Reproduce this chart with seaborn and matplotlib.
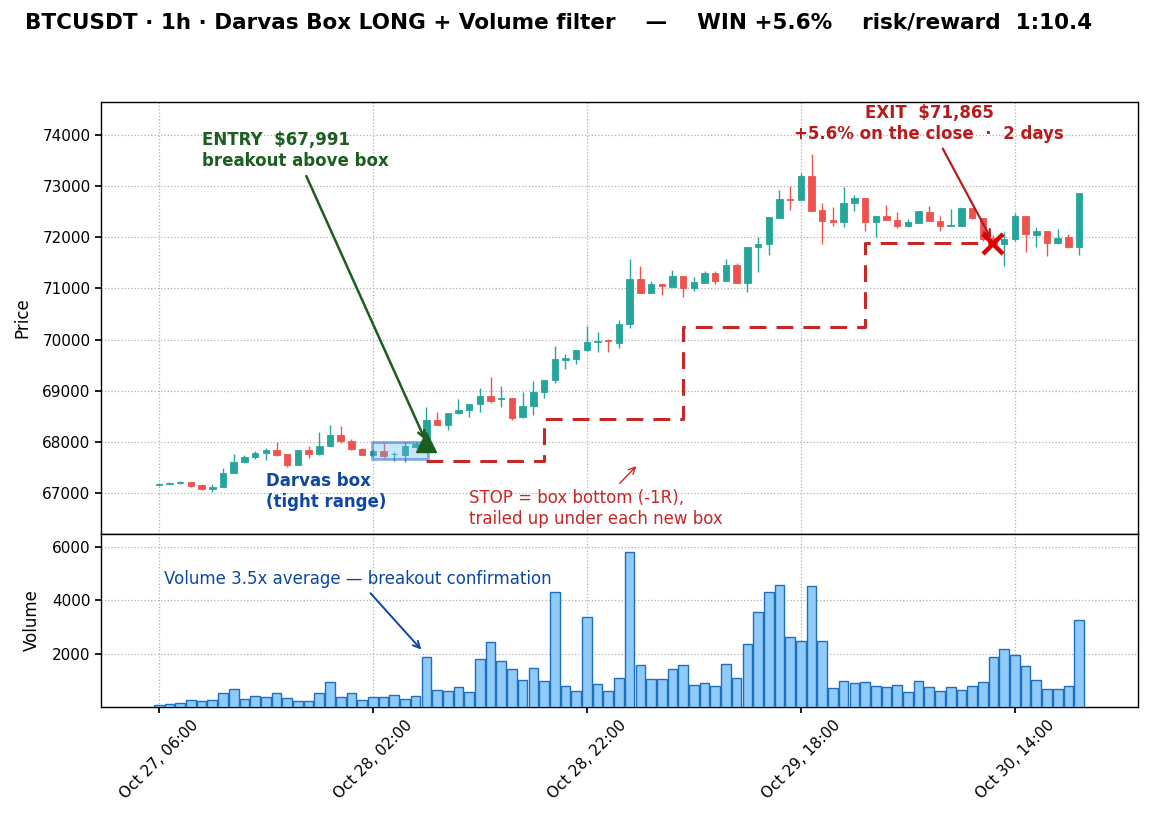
import numpy as np
import matplotlib
matplotlib.use("Agg")
import matplotlib.pyplot as plt
from matplotlib.patches import Rectangle
import pandas as pd
import seaborn as sns

# %% data (1h candles, Oct 27 06:00 -> Oct 30 20:00)
tick_labels = ["Oct 27, 06:00", "Oct 28, 02:00", "Oct 28, 22:00", "Oct 29, 18:00", "Oct 30, 14:00"]

opens = [67160, 67180, 67200, 67220, 67150, 67080, 67110, 67395, 67610, 67700,
         67790, 67835, 67760, 67540, 67850, 67760, 67920, 68130, 68010, 67870,
         67750, 67820, 67755, 67750, 67900, 67980, 68420, 68325, 68560, 68620,
         68745, 68900, 68830, 68850, 68480, 68700, 68980, 69210, 69610, 69630,
         69790, 69950, 70000, 69940, 70300, 71180, 70920, 71090, 71030, 71250,
         71010, 71110, 71310, 71150, 71465, 71100, 71805, 71870, 72380, 72750,
         72720, 73190, 72540, 72340, 72295, 72675, 72760, 72295, 72420, 72340,
         72230, 72275, 72500, 72325, 72230, 72230, 72580, 72370, 71990, 71870,
         71965, 72420, 72050, 72130, 71880, 72000, 71820]
highs = [67190, 67210, 67245, 67225, 67170, 67170, 67490, 67770, 67740, 67830,
         67880, 68000, 67770, 67850, 67930, 68200, 68340, 68310, 68060, 67890,
         67870, 67980, 67800, 67990, 67990, 68690, 68580, 68570, 68840, 68750,
         69050, 69260, 69085, 68850, 68970, 69200, 69215, 69880, 69710, 69800,
         70260, 70150, 70020, 70380, 71580, 71430, 71140, 71090, 71370, 71250,
         71215, 71340, 71350, 71575, 71490, 71820, 72000, 72405, 72930, 73000,
         73255, 73630, 72665, 72600, 72980, 72820, 72760, 72420, 72640, 72490,
         72350, 72510, 72620, 72420, 72555, 72580, 72580, 72370, 72050, 72100,
         72470, 72420, 72200, 72130, 72160, 72060, 72870]
lows = [67140, 67175, 67170, 67125, 67060, 67030, 67110, 67395, 67600, 67670,
        67640, 67720, 67510, 67540, 67690, 67740, 67920, 67980, 67850, 67740,
        67700, 67690, 67620, 67600, 67890, 67970, 68330, 68230, 68550, 68490,
        68580, 68770, 68690, 68430, 68460, 68520, 68850, 69160, 69420, 69520,
        69780, 69750, 69760, 69840, 70220, 70910, 70910, 70880, 71030, 70840,
        70960, 71110, 71080, 71150, 71100, 70930, 71330, 71660, 72380, 72535,
        72720, 72520, 71870, 72230, 72200, 72520, 72130, 72000, 72340, 72190,
        72200, 72275, 72315, 72120, 72230, 72230, 72360, 71930, 71820, 71445,
        71930, 71705, 71815, 71640, 71870, 71790, 71660]
closes = [67170, 67200, 67225, 67145, 67080, 67120, 67395, 67610, 67700, 67790,
          67835, 67740, 67540, 67850, 67760, 67920, 68130, 68010, 67860, 67750,
          67815, 67725, 67765, 67915, 67965, 68420, 68330, 68570, 68630, 68750,
          68900, 68805, 68850, 68470, 68700, 68980, 69215, 69620, 69640, 69800,
          69960, 69965, 69970, 70300, 71180, 70915, 71085, 71045, 71240, 71010,
          71120, 71310, 71150, 71465, 71100, 71820, 71870, 72405, 72750, 72720,
          73190, 72520, 72325, 72300, 72680, 72760, 72295, 72420, 72340, 72230,
          72290, 72510, 72315, 72230, 72250, 72580, 72370, 71965, 71865, 71965,
          72420, 72065, 72130, 71880, 71985, 71815, 72870]
volumes = [62, 100, 137, 260, 224, 260, 510, 660, 300, 400,
           360, 510, 323, 211, 211, 510, 920, 360, 510, 260,
           385, 385, 435, 300, 400, 1890, 635, 600, 735, 550,
           1815, 2450, 1740, 1440, 1030, 1480, 970, 4310, 770, 600,
           3390, 880, 600, 1070, 5830, 1587, 1066, 1066, 1438, 1587,
           843, 918, 769, 1624, 1103, 2368, 3559, 4303, 4563, 2629,
           2480, 4526, 2480, 694, 992, 918, 955, 806, 732, 843,
           546, 992, 732, 595, 732, 620, 769, 955, 1885, 2182,
           1959, 1550, 1029, 657, 657, 769, 3261]

# trade
entry_idx, entry_price = 25, 67991
exit_idx, exit_price = 78, 71865
box_start, box_end = 19.97, 25.17
box_top, box_bottom = 67991, 67670
stop_steps_x = [25, 36, 49, 66, 78]
stop_levels = [67618, 68441, 70246, 71882, 71882]

df = pd.DataFrame({"open": opens, "high": highs, "low": lows, "close": closes, "volume": volumes})
df["idx"] = np.arange(len(df))
up = df["close"] >= df["open"]

GREEN = "#26a69a"
RED = "#ef5350"

# %% plot
sns.set_theme(style="ticks", rc={
    "axes.edgecolor": "black",
    "axes.linewidth": 1.0,
    "axes.labelcolor": "black",
    "text.color": "black",
    "xtick.color": "black",
    "ytick.color": "black",
    "xtick.major.size": 4,
    "ytick.major.size": 4,
})
plt.rcParams["font.family"] = ["DejaVu Sans"]

fig = plt.figure(figsize=(11.49, 8.24), dpi=100)
ax_p = fig.add_axes([0.0879, 0.3519, 0.9025, 0.5243])
ax_v = fig.add_axes([0.0879, 0.1420, 0.9025, 0.2100], sharex=ax_p)

# candles
colors = np.where(up, GREEN, RED)
ax_p.vlines(df["idx"], df["low"], df["high"], colors=colors, linewidth=1.0, zorder=2)
ax_p.bar(df["idx"], (df["close"] - df["open"]).abs(), bottom=df[["open", "close"]].min(axis=1),
         width=0.6, color=colors, edgecolor=colors, linewidth=0.6, zorder=3)

# darvas box
ax_p.add_patch(Rectangle((box_start, box_bottom), box_end - box_start, box_top - box_bottom,
                         facecolor=(0.39, 0.71, 0.96, 0.35), edgecolor=(0.10, 0.40, 0.78, 0.50),
                         linewidth=2, zorder=4))

# trailing stop
ax_p.plot(stop_steps_x, stop_levels, drawstyle="steps-post", color="#c62828",
          linewidth=2.2, dashes=(5.5, 3.3), zorder=4)

# entry / exit markers
ax_p.plot(entry_idx, entry_price, marker="^", markersize=15, color="#1b5e20", zorder=6)
ax_p.plot(exit_idx, exit_price, marker="x", markersize=14, markeredgewidth=3.2, color="#e00000", zorder=6)

ax_p.annotate("ENTRY  $67,991\nbreakout above box", xy=(entry_idx, entry_price),
              xytext=(4.0, 73690), ha="left", va="center", fontsize=12, fontweight="bold",
              color="#1b5e20", arrowprops=dict(arrowstyle="->", color="#1b5e20", lw=1.8))
ax_p.annotate("EXIT  $71,865\n+5.6% on the close  \u00b7  2 days", xy=(exit_idx - 0.1, exit_price + 60),
              xytext=(72.0, 74225), ha="center", va="center", fontsize=12, fontweight="bold",
              color="#b71c1c", arrowprops=dict(arrowstyle="->", color="#b71c1c", lw=1.6))
ax_p.text(10.0, 67029, "Darvas box\n(tight range)", ha="left", va="center", fontsize=12,
          fontweight="bold", color="#0d47a1")
ax_p.annotate("STOP = box bottom (-1R),\ntrailed up under each new box", xy=(44.8, 67567),
              xytext=(29.0, 66706), ha="left", va="center", fontsize=12, color="#c62828",
              arrowprops=dict(arrowstyle="->", color="#c62828", lw=1.0))

ax_p.set_ylim(66200, 74645)
ax_p.set_yticks(np.arange(67000, 74001, 1000))
ax_p.set_ylabel("Price", fontsize=12, labelpad=8)
ax_p.grid(True, linestyle=":", color="#b0b0b0", linewidth=0.9)
ax_p.tick_params(axis="x", length=0, labelbottom=False)
ax_p.tick_params(axis="y", labelsize=11)

# volume
sns.barplot(data=df, x="idx", y="volume", native_scale=True, width=0.9, color="#90caf9",
            saturation=1, edgecolor="#1f6fbf", linewidth=1.0, errorbar=None, ax=ax_v, zorder=3)
ax_v.annotate("Volume 3.5x average \u2014 breakout confirmation", xy=(entry_idx - 0.3, 2075),
              xytext=(0.47, 4804), ha="left", va="center", fontsize=12, color="#0d47a1",
              arrowprops=dict(arrowstyle="->", color="#0d47a1", lw=1.4))
ax_v.set_ylim(0, 6490)
ax_v.set_yticks([2000, 4000, 6000])
ax_v.set_ylabel("Volume", fontsize=12, labelpad=8)
ax_v.set_xlabel("")
ax_v.grid(True, linestyle=":", color="#b0b0b0", linewidth=0.9)
ax_v.set_axisbelow(True)

ax_v.set_xticks(np.arange(0, len(df), 20))
ax_v.set_xticklabels(tick_labels)
ax_v.tick_params(axis="x", labelrotation=45, labelsize=11)
ax_v.tick_params(axis="y", labelsize=11)
ax_v.set_xlim(-5.4, 91.5)

fig.text(25 / 1149, 1 - 22 / 824,
         "BTCUSDT \u00b7 1h \u00b7 Darvas Box LONG + Volume filter    \u2014    WIN +5.6%    risk/reward  1:10.4",
         ha="left", va="center", fontsize=15.5, fontweight="bold")

fig.savefig("out.png", dpi=100)
